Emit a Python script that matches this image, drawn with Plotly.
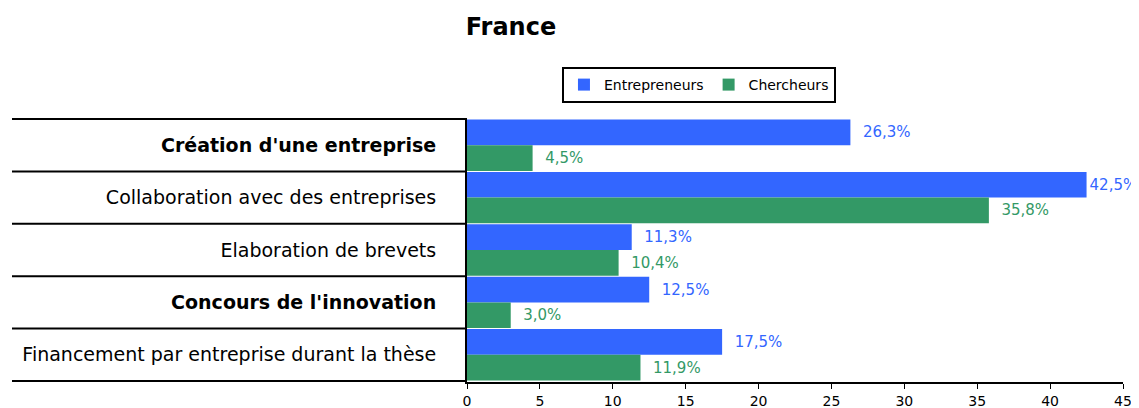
import plotly.graph_objects as go

categories = ["Création d'une entreprise", "Collaboration avec des entreprises",
              "Elaboration de brevets", "Concours de l'innovation",
              "Financement par entreprise durant la thèse"]
bold_flags = [True, False, False, True, False]
entrepreneurs = [26.3, 42.5, 11.3, 12.5, 17.5]
chercheurs = [4.5, 35.8, 10.4, 3.0, 11.9]
x_ticks = [0, 5, 10, 15, 20, 25, 30, 35, 40, 45]

BLUE = "#3366FF"
GREEN = "#339966"
FONT = "DejaVu Sans"

def lab(v, vmax):
    s = f"{v:.1f}".replace(".", ",") + "%"
    return s if v == vmax else "  " + s

vmax = max(entrepreneurs + chercheurs)

fig = go.Figure()
fig.add_trace(go.Bar(
    name="Entrepreneurs", y=categories, x=entrepreneurs, orientation="h",
    marker=dict(color=BLUE, line=dict(width=0)),
    text=[lab(v, vmax) for v in entrepreneurs],
    textposition="outside", textfont=dict(color=BLUE, size=15, family=FONT),
    cliponaxis=False,
))
fig.add_trace(go.Bar(
    name="Chercheurs", y=categories, x=chercheurs, orientation="h",
    marker=dict(color=GREEN, line=dict(width=0)),
    text=[lab(v, vmax) for v in chercheurs],
    textposition="outside", textfont=dict(color=GREEN, size=15, family=FONT),
    cliponaxis=False,
))

ticktext = [f"<b>{c}</b>" if b else c for c, b in zip(categories, bold_flags)]

shapes = []
for i in range(len(categories) + 1):
    shapes.append(dict(type="line", xref="paper", yref="y",
                       x0=-0.6936, x1=0, y0=i - 0.5, y1=i - 0.5,
                       line=dict(color="black", width=2)))

fig.update_layout(
    width=1131, height=400,
    margin=dict(l=459, r=16, t=110, b=26, autoexpand=False),
    paper_bgcolor="white", plot_bgcolor="white",
    font=dict(family=FONT, color="black"),
    title=dict(text="<b>France</b>", x=0.4447, xref="container", xanchor="center",
               y=0.9525, yref="container", yanchor="middle",
               font=dict(size=24, family=FONT, color="black")),
    barmode="group", bargap=0.02, bargroupgap=0,
    showlegend=True,
    legend=dict(orientation="h", x=0.4898, xref="container", xanchor="left",
                y=0.8525, yref="container", yanchor="top",
                bordercolor="black", borderwidth=2, bgcolor="white",
                font=dict(size=14, family=FONT), itemwidth=30),
    shapes=shapes,
)
fig.update_xaxes(range=[0, 45], tickvals=x_ticks, showgrid=False, zeroline=False,
                 showline=True, linecolor="black", linewidth=2, automargin=False,
                 ticks="outside", ticklen=5, tickcolor="black", tickwidth=1,
                 tickfont=dict(size=14, family=FONT))
fig.update_yaxes(autorange="reversed", tickvals=categories, ticktext=ticktext,
                 showgrid=False, showline=True, linecolor="black", linewidth=2,
                 ticks="", ticklabelstandoff=25, automargin=False,
                 tickfont=dict(size=19, family=FONT))

fig.write_html("out.html")
